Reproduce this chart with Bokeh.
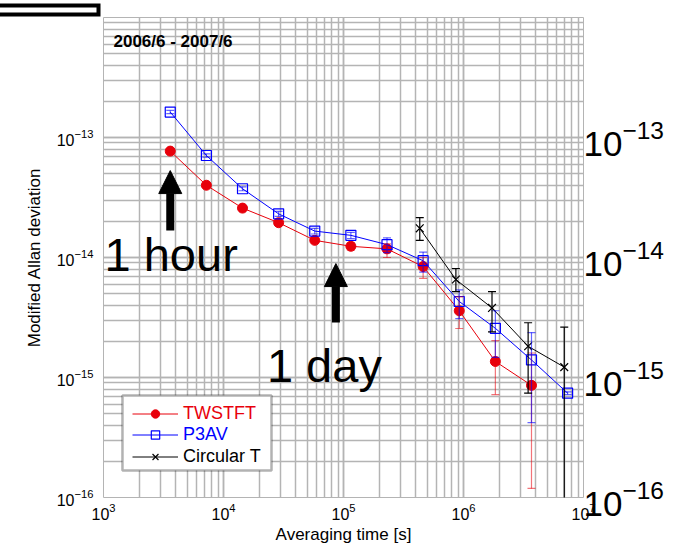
import numpy as np
from bokeh.plotting import figure
from bokeh.models import (ColumnDataSource, Whisker, TeeHead, Legend, LegendItem,
                          LogAxis, Label, Arrow, NormalHead, BoxAnnotation, Range1d,
                          FixedTicker, LogTicker, Title)
from bokeh.embed import file_html
from bokeh.resources import INLINE

# ---- data ----
tau_tw = [3600, 7200, 14400, 28800, 57600, 115200, 230400, 460800, 921600, 1843200, 3686400]
adev_tw = [7.7e-14, 4.0e-14, 2.58e-14, 1.95e-14, 1.39e-14, 1.24e-14, 1.18e-14, 8.4e-15, 3.6e-15, 1.36e-15, 8.6e-16]
tw_hi = [7.9e-14, 4.1e-14, 2.65e-14, 2.0e-14, 1.43e-14, 1.33e-14, 1.30e-14, 1.0e-14, 4.7e-15, 2.03e-15, 1.6e-15]
tw_lo = [7.5e-14, 3.9e-14, 2.51e-14, 1.9e-14, 1.35e-14, 1.15e-14, 1.0e-14, 6.7e-15, 2.56e-15, 7.2e-16, 1.19e-16]

tau_p3 = [3600, 7200, 14400, 28800, 57600, 115200, 230400, 460800, 921600, 1843200, 3686400, 7372800]
adev_p3 = [1.63e-13, 7.08e-14, 3.74e-14, 2.31e-14, 1.66e-14, 1.53e-14, 1.28e-14, 9.4e-15, 4.3e-15, 2.57e-15, 1.40e-15, 7.4e-16]
p3_hi = [1.68e-13, 7.3e-14, 3.88e-14, 2.42e-14, 1.75e-14, 1.62e-14, 1.46e-14, 1.11e-14, 5.37e-15, 3.6e-15, 2.37e-15, 7.6e-16]
p3_lo = [1.58e-13, 6.86e-14, 3.6e-14, 2.2e-14, 1.57e-14, 1.44e-14, 1.1e-14, 7.55e-15, 3.09e-15, 1.47e-15, 4.2e-16, 7.2e-16]

tau_ct = [432000, 864000, 1728000, 3456000, 6912000]
adev_ct = [1.75e-14, 6.55e-15, 3.8e-15, 1.82e-15, 1.22e-15]
ct_hi = [2.15e-14, 8.1e-15, 5.2e-15, 2.86e-15, 2.63e-15]
ct_lo = [1.39e-14, 5.2e-15, 2.4e-15, 7.4e-16, 1e-17]

y_ticks = [1e-16, 1e-15, 1e-14, 1e-13]
x_ticks = [1e3, 1e4, 1e5, 1e6, 1e7]

series_names = ["TWSTFT", "P3AV", "Circular T"]
series_colors = ["#e8000b", "#0000ff", "#000000"]

FONT = "Liberation Sans"
GRID = "#b4b4b4"

p = figure(width=691, height=546, x_axis_type="log", y_axis_type="log",
           x_range=Range1d(1e3, 1e7), y_range=Range1d(1e-16, 1e-12),
           output_backend="svg", toolbar_location=None,
           min_border_left=103, min_border_right=108, min_border_top=17, min_border_bottom=49)
p.outline_line_color = GRID
p.background_fill_color = "white"

p.xaxis[0].axis_label = "Averaging time [s]"
p.yaxis[0].axis_label = "Modified Allan deviation"

ry = LogAxis()
p.add_layout(ry, "right")

p.xaxis[0].ticker = FixedTicker(ticks=x_ticks)
p.yaxis[0].ticker = FixedTicker(ticks=y_ticks)
ry.ticker = FixedTicker(ticks=y_ticks)

for g in (p.xgrid[0], p.ygrid[0]):
    g.ticker = LogTicker(num_minor_ticks=10)
    g.grid_line_color = GRID
    g.grid_line_width = 1.5
    g.minor_grid_line_color = GRID
    g.minor_grid_line_width = 1.5

for ax in (p.xaxis[0], p.yaxis[0], ry):
    ax.axis_line_color = None
    ax.major_tick_line_color = None
    ax.minor_tick_line_color = None
    ax.major_tick_out = 0
    ax.minor_tick_out = 0
    ax.major_label_text_font = FONT
    ax.major_label_text_color = "black"
    ax.axis_label_text_font = FONT
    ax.axis_label_text_font_style = "normal"
    ax.axis_label_text_color = "black"
    ax.axis_label_text_font_size = "17px"
    ax.major_label_text_font_size = "16px"

p.xaxis[0].major_label_standoff = 5
p.xaxis[0].axis_label_standoff = 2
p.yaxis[0].major_label_standoff = 10
p.yaxis[0].axis_label_standoff = 10
ry.major_label_text_font_size = "35px"
ry.major_label_standoff = 0

# ---- series ----
src_tw = ColumnDataSource(dict(x=tau_tw, y=adev_tw, hi=tw_hi, lo=tw_lo))
src_p3 = ColumnDataSource(dict(x=tau_p3, y=adev_p3, hi=p3_hi, lo=p3_lo))
src_ct = ColumnDataSource(dict(x=tau_ct, y=adev_ct, hi=ct_hi, lo=ct_lo))

def whisk(src, color, alpha):
    w = Whisker(source=src, base="x", upper="hi", lower="lo", dimension="height",
                line_color=color, line_alpha=alpha, line_width=1.2,
                upper_head=TeeHead(size=8, line_color=color, line_alpha=alpha, line_width=1.2),
                lower_head=TeeHead(size=8, line_color=color, line_alpha=alpha, line_width=1.2))
    w.level = "glyph"
    p.add_layout(w)

whisk(src_tw, series_colors[0], 0.55)
whisk(src_p3, series_colors[1], 0.6)
whisk(src_ct, series_colors[2], 1.0)

l_tw = p.line("x", "y", source=src_tw, line_color=series_colors[0], line_width=1)
s_tw = p.scatter("x", "y", source=src_tw, marker="circle", size=10,
                 fill_color=series_colors[0], line_color=series_colors[0])
l_p3 = p.line("x", "y", source=src_p3, line_color=series_colors[1], line_width=1)
s_p3 = p.scatter("x", "y", source=src_p3, marker="square", size=10,
                 fill_color=None, line_color=series_colors[1], line_width=1.2)
l_ct = p.line("x", "y", source=src_ct, line_color=series_colors[2], line_width=1)
s_ct = p.scatter("x", "y", source=src_ct, marker="x", size=11,
                 line_color=series_colors[2], line_width=1.2)

# ---- legend ----
box = BoxAnnotation(left=1439, right=25119, bottom=1.68e-16, top=7.08e-16,
                    fill_color="white", fill_alpha=1.0, line_color="black", line_width=2.5)
p.add_layout(box)
rows = [(l_tw, s_tw), (l_p3, s_p3), (l_ct, s_ct)]
for i, (name, col, rr) in enumerate(zip(series_names, series_colors, rows)):
    lg = Legend(items=[LegendItem(label=name, renderers=list(rr))],
                location=(29, 73.5 - 21.5 * i), padding=0, margin=0, spacing=0,
                glyph_width=46, glyph_height=21, label_height=21, label_standoff=5,
                label_text_font=FONT, label_text_font_size="18px", label_text_color=col,
                border_line_color=None, background_fill_alpha=0)
    p.add_layout(lg)

# ---- annotations ----
p.add_layout(Label(x=1211, y=6.3e-13, text="2006/6 - 2007/6", text_font=FONT,
                   text_color="black", text_font_size="17px", text_font_style="bold",
                   text_baseline="middle"))
p.add_layout(Label(x=1020, y=1.05e-14, text="1 hour", text_font=FONT, text_color="black",
                   text_font_size="47px", text_baseline="alphabetic"))
p.add_layout(Label(x=23000, y=1.25e-15, text="1 day", text_font=FONT, text_color="black",
                   text_font_size="47px", text_baseline="alphabetic"))
p.add_layout(Arrow(x_start=3600, y_start=1.68e-14, x_end=3600, y_end=5.3e-14,
                   line_width=8, line_color="black",
                   end=NormalHead(size=23, fill_color="black", line_color="black")))
p.add_layout(Arrow(x_start=86400, y_start=2.87e-15, x_end=86400, y_end=8.9e-15,
                   line_width=8, line_color="black",
                   end=NormalHead(size=23, fill_color="black", line_color="black")))

# partially visible framed box at the top-left corner of the page (an empty title box)
corner = Title(text="\u2003" * 15, text_font_size="8px", text_color="white",
               align="left", offset=-125, standoff=6, padding=0,
               background_fill_color="white", border_line_color="black",
               border_line_width=4, border_line_join="miter")
p.add_layout(corner, "above")

open("out.html", "w").write(file_html(p, INLINE))
